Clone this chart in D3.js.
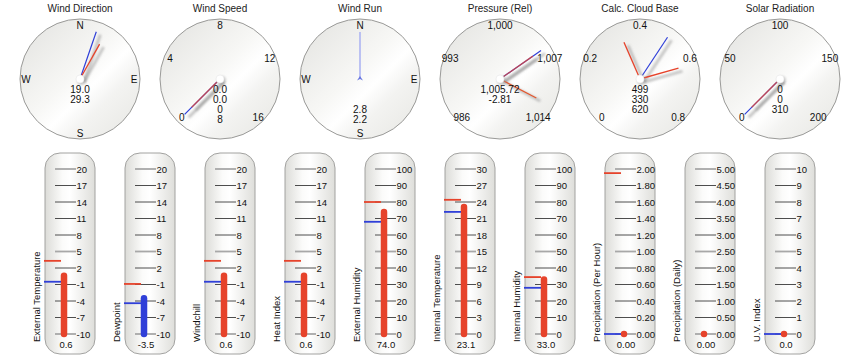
<!DOCTYPE html>
<html>
<head>
<meta charset="utf-8">
<script src="https://cdn.jsdelivr.net/npm/d3@7/dist/d3.min.js"></script>
<style>
html,body{margin:0;padding:0;background:#fff;}
svg{display:block;font-family:"Liberation Sans",Arial,Helvetica,sans-serif;}
</style>
</head>
<body>
<svg id="chart" width="858" height="364"></svg>
<script>
// ---------- Gauge data ----------
const gaugeTitles = ["Wind Direction","Wind Speed","Wind Run","Pressure (Rel)","Calc. Cloud Base","Solar Radiation"];
const gaugeCompass = [true,false,true,false,false,false];
const gaugeMins = [0,0,0,986,0,0];
const gaugeMaxs = [360,16,360,1014,0.8,200];
const gaugeTickValues = [[0,90,180,270],[0,4,8,12,16],[0,90,180,270],[986,993,1000,1007,1014],[0,0.2,0.4,0.6,0.8],[0,50,100,150,200]];
const gaugeTickLabels = [["N","E","S","W"],["0","4","8","12","16"],["N","E","S","W"],["986","993","1,000","1,007","1,014"],["0","0.2","0.4","0.6","0.8"],["0","50","100","150","200"]];
const gaugeBlue = [19.0, 0, null, 1005.72, 0.499, 0];
const gaugeRed = [[29.3],[0],[],[1005.72],[0.330,0.620],[0]];
const gaugeTrend = [null,null,null,1012.2,null,null];
const gaugeRun = [null,null,0,null,null,null];
const gaugeReadouts = [["19.0","29.3"],["0.0","0.0","0","8"],["","","2.8","2.2"],["1,005.72","-2.81"],["499","330","620"],["0","0","310"]];

// ---------- Thermometer data ----------
const thermNames = ["External Temperature","Dewpoint","Windchill","Heat Index","External Humidity","Internal Temperature","Internal Humidity","Precipitation (Per Hour)","Precipitation (Daily)","U.V. Index"];
const thermMins = [-10,-10,-10,-10,0,0,0,0,0,0];
const thermMaxs = [20,20,20,20,100,30,100,2,5,10];
const thermTickValues = [
  [-10,-7,-4,-1,2,5,8,11,14,17,20],
  [-10,-7,-4,-1,2,5,8,11,14,17,20],
  [-10,-7,-4,-1,2,5,8,11,14,17,20],
  [-10,-7,-4,-1,2,5,8,11,14,17,20],
  [0,10,20,30,40,50,60,70,80,90,100],
  [0,3,6,9,12,15,18,21,24,27,30],
  [0,10,20,30,40,50,60,70,80,90,100],
  [0,0.2,0.4,0.6,0.8,1.0,1.2,1.4,1.6,1.8,2.0],
  [0,0.5,1.0,1.5,2.0,2.5,3.0,3.5,4.0,4.5,5.0],
  [0,1,2,3,4,5,6,7,8,9,10]
];
const thermTickLabels = [
  ["-10","-7","-4","-1","2","5","8","11","14","17","20"],
  ["-10","-7","-4","-1","2","5","8","11","14","17","20"],
  ["-10","-7","-4","-1","2","5","8","11","14","17","20"],
  ["-10","-7","-4","-1","2","5","8","11","14","17","20"],
  ["0","10","20","30","40","50","60","70","80","90","100"],
  ["0","3","6","9","12","15","18","21","24","27","30"],
  ["0","10","20","30","40","50","60","70","80","90","100"],
  ["0.00","0.20","0.40","0.60","0.80","1.00","1.20","1.40","1.60","1.80","2.00"],
  ["0.00","0.50","1.00","1.50","2.00","2.50","3.00","3.50","4.00","4.50","5.00"],
  ["0","1","2","3","4","5","6","7","8","9","10"]
];
const thermValues = [0.6,-3.5,0.6,0.6,74.0,23.1,33.0,0.00,0.00,0.0];
const thermValueLabels = ["0.6","-3.5","0.6","0.6","74.0","23.1","33.0","0.00","0.00","0.0"];
const thermBarBlue = [false,true,false,false,false,false,false,false,false,false];
const thermHigh = [3.3,-0.9,3.3,3.3,80,24.4,34.5,1.95,null,null];
const thermLow = [-0.5,-4.4,-0.5,-0.5,68,22.2,28,0,null,0];

// ---------- styles ----------
const RED = "#e6432b", BLUE = "#2f3fd8", LIGHTBLUE = "#a9b1f2";
const W = 858, H = 364;
const svg = d3.select("#chart");
const defs = svg.append("defs");

const faceGrad = defs.append("linearGradient").attr("id","face").attr("x1","0").attr("y1","0").attr("x2","1").attr("y2","1");
[[0,"#e2e2df"],[0.45,"#f7f7f5"],[0.58,"#ffffff"],[0.7,"#f3f3f1"],[1,"#e6e6e2"]].forEach(s=>faceGrad.append("stop").attr("offset",s[0]).attr("stop-color",s[1]));

const tubeGrad = defs.append("linearGradient").attr("id","tube").attr("x1","0").attr("y1","0").attr("x2","1").attr("y2","0");
[[0,"#dcdcd8"],[0.35,"#fbfbfa"],[0.5,"#ffffff"],[1,"#dededa"]].forEach(s=>tubeGrad.append("stop").attr("offset",s[0]).attr("stop-color",s[1]));

const blur = defs.append("filter").attr("id","blur").attr("x","-50%").attr("y","-50%").attr("width","200%").attr("height","200%");
blur.append("feGaussianBlur").attr("stdDeviation",1.3);

// ---------- Gauges ----------
const gx = d3.scaleLinear().domain([0,5]).range([80,780]);
const gCy = 79, gR = 60, labelR = 54;

gaugeTitles.forEach((title,i)=>{
  const cx = gx(i);
  const ang = gaugeCompass[i]
    ? d3.scaleLinear().domain([0,360]).range([0,2*Math.PI])
    : d3.scaleLinear().domain([gaugeMins[i],gaugeMaxs[i]]).range([-0.75*Math.PI,0.75*Math.PI]);
  const g = svg.append("g");
  g.append("text").attr("x",cx).attr("y",12).attr("text-anchor","middle")
    .attr("font-size",10).attr("fill","#222").text(title);
  g.append("circle").attr("cx",cx).attr("cy",gCy).attr("r",gR)
    .attr("fill","url(#face)").attr("stroke","#9a9a98").attr("stroke-width",1);

  gaugeTickValues[i].forEach((v,k)=>{
    const a = ang(v);
    g.append("text").attr("x",cx+labelR*Math.sin(a)).attr("y",gCy-labelR*Math.cos(a))
      .attr("text-anchor","middle").attr("dominant-baseline","central")
      .attr("font-size",10).attr("fill","#111").text(gaugeTickLabels[i][k]);
  });

  function needle(v,len,color,width,opacity){
    const a = ang(v);
    const x2 = cx+len*Math.sin(a), y2 = gCy-len*Math.cos(a);
    g.append("line").attr("x1",cx+4).attr("y1",gCy+3).attr("x2",x2+4).attr("y2",y2+3)
      .attr("stroke","#888").attr("stroke-opacity",0.45).attr("stroke-width",3).attr("filter","url(#blur)");
    g.append("line").attr("x1",cx).attr("y1",gCy).attr("x2",x2).attr("y2",y2)
      .attr("stroke",color).attr("stroke-width",width).attr("stroke-opacity",opacity);
  }
  if (gaugeBlue[i]!==null) needle(gaugeBlue[i],50,BLUE,1.2,1);
  gaugeRed[i].forEach(v=>needle(v,40,RED,1.3,gaugeBlue[i]===v?0.75:1));
  if (gaugeTrend[i]!==null) needle(gaugeTrend[i],41,"#e4572e",1.3,1);
  if (gaugeRun[i]!==null) {
    const a = ang(gaugeRun[i]);
    g.append("line").attr("x1",cx).attr("y1",gCy).attr("x2",cx+47*Math.sin(a)).attr("y2",gCy-47*Math.cos(a))
      .attr("stroke",LIGHTBLUE).attr("stroke-width",1.5);
    g.append("path").attr("d",`M${cx},${gCy-3} L${cx+3},${gCy+1.5} L${cx},${gCy} L${cx-3},${gCy+1.5} Z`)
      .attr("fill","#6a78e0");
  } else {
    g.append("circle").attr("cx",cx+1.5).attr("cy",gCy+1.5).attr("r",4.5).attr("fill","#999").attr("opacity",0.5).attr("filter","url(#blur)");
    g.append("circle").attr("cx",cx).attr("cy",gCy).attr("r",4).attr("fill","#fff").attr("stroke","#e4e4e4").attr("stroke-width",0.5);
  }

  gaugeReadouts[i].forEach((t,k)=>{
    g.append("text").attr("x",cx).attr("y",93+k*10).attr("text-anchor","middle")
      .attr("font-size",10).attr("fill","#111").text(t);
  });
});

// ---------- Thermometers ----------
const tx = d3.scaleLinear().domain([0,9]).range([70,790]);
const boxTop = 153, boxBottom = 354, yTop = 169, yBottom = 334;

thermNames.forEach((name,i)=>{
  const c = tx(i);
  const y = d3.scaleLinear().domain([thermMins[i],thermMaxs[i]]).range([yBottom,yTop]);
  const g = svg.append("g");
  g.append("rect").attr("x",c-25).attr("y",boxTop).attr("width",50).attr("height",boxBottom-boxTop)
    .attr("rx",15).attr("ry",15).attr("fill","url(#tube)").attr("stroke","#a2a2a0").attr("stroke-width",1);

  const n = thermTickValues[i].length;
  thermTickValues[i].forEach((v,k)=>{
    const major = (k===0 || k===n-1 || k===(n-1)/2);
    g.append("line").attr("x1",c-15).attr("x2",c+6).attr("y1",y(v)).attr("y2",y(v))
      .attr("stroke",major?"#a8a8a8":"#3a3a3a").attr("stroke-width",major?1.8:0.9);
    g.append("text").attr("x",c+6.5).attr("y",y(v)).attr("dominant-baseline","central")
      .attr("font-size",9.5).attr("fill","#111").text(thermTickLabels[i][k]);
  });

  const bx = c-6;
  const col = thermBarBlue[i]?BLUE:RED;
  g.append("line").attr("x1",bx+2).attr("x2",bx+2).attr("y1",yBottom+1).attr("y2",y(thermValues[i])+1)
    .attr("stroke","#777").attr("stroke-opacity",0.4).attr("stroke-width",6).attr("stroke-linecap","round").attr("filter","url(#blur)");
  g.append("line").attr("x1",bx).attr("x2",bx).attr("y1",yBottom).attr("y2",y(thermValues[i]))
    .attr("stroke",col).attr("stroke-width",6.5).attr("stroke-linecap","round");

  if (thermHigh[i]!==null) g.append("line").attr("x1",c-26).attr("x2",c-9).attr("y1",y(thermHigh[i])).attr("y2",y(thermHigh[i]))
    .attr("stroke",RED).attr("stroke-width",1.8);
  if (thermLow[i]!==null) g.append("line").attr("x1",c-26).attr("x2",c-9).attr("y1",y(thermLow[i])).attr("y2",y(thermLow[i]))
    .attr("stroke",BLUE).attr("stroke-width",1.8);

  g.append("text").attr("x",c-4).attr("y",348).attr("text-anchor","middle")
    .attr("font-size",9.5).attr("fill","#111").text(thermValueLabels[i]);

  g.append("text").attr("transform",`translate(${c-30},342) rotate(-90)`)
    .attr("font-size",9.5).attr("fill","#111").text(name);
});
</script>
</body>
</html>
